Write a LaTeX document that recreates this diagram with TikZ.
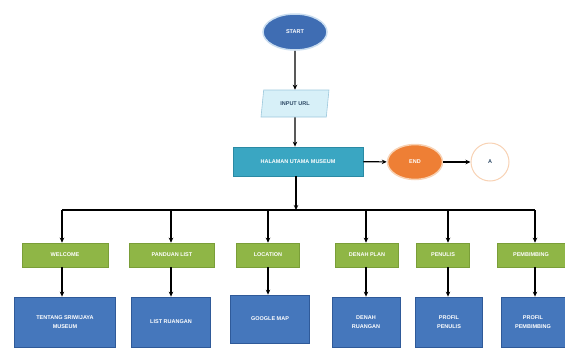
\documentclass[tikz,border=0pt]{standalone}
\usepackage{fontspec}
\setmainfont{Liberation Sans}
\usetikzlibrary{shapes.geometric,arrows.meta}
\definecolor{startblue}{HTML}{3F6DB3}
\definecolor{halo}{HTML}{C9DDF0}
\definecolor{inputfill}{HTML}{D7F0F8}
\definecolor{inputline}{HTML}{9CC8DC}
\definecolor{tealfill}{HTML}{3AA6C2}
\definecolor{tealline}{HTML}{2A8AA4}
\definecolor{endorange}{HTML}{EE7F35}
\definecolor{endhalo}{HTML}{F8D2B4}
\definecolor{greenfill}{HTML}{8FB646}
\definecolor{greenline}{HTML}{7A9E38}
\definecolor{bluefill}{HTML}{4577BC}
\definecolor{blueline}{HTML}{2F5A99}
\definecolor{darktext}{HTML}{2E4A66}
\begin{document}
\begin{tikzpicture}[x=1pt,y=-1pt,
  lbl/.style={font=\fontsize{5.5}{6.5}\selectfont\bfseries, align=center, inner sep=0pt},
  term/.style={lbl, ellipse, text=white, line width=1.5pt},
  inbox/.style={lbl, trapezium, trapezium left angle=72, trapezium right angle=108,
    fill=inputfill, draw=inputline, line width=0.6pt, text=darktext,
    minimum width=68pt, minimum height=27pt, trapezium stretches=true},
  mainbox/.style={lbl, rectangle, fill=tealfill, draw=tealline, line width=0.8pt, text=white,
    minimum width=130pt, minimum height=29pt},
  greenbox/.style={lbl, rectangle, fill=greenfill, draw=greenline, line width=0.6pt, text=white,
    minimum height=24pt},
  bluebox/.style={lbl, rectangle, fill=bluefill, draw=blueline, line width=0.8pt, text=white,
    minimum height=50pt},
  arr/.style={-{Stealth[length=5pt,width=4.5pt]}, line width=1.2pt, black},
  busline/.style={line width=1.2pt, black}]
\useasboundingbox (0,0) rectangle (565,354);

\node[term, fill=startblue, draw=halo, minimum width=64pt, minimum height=36pt] (start) at (295,32) {START};
\node[inbox] (input) at (295,103.5) {INPUT URL};
\node[mainbox] (main) at (298,161.5) {HALAMAN UTAMA MUSEUM};
\node[term, fill=endorange, draw=endhalo, minimum width=55pt, minimum height=35pt] (end) at (415,162) {END};
\node[lbl, circle, fill=white, draw=endhalo, line width=1pt, minimum size=38pt, text=darktext] (a) at (490,162) {A};

\draw[arr] (start) -- (input);
\draw[arr] (input) -- (main.north -| input);
\draw[arr] (main) -- (end);
\draw[arr] (end) -- (a);

\coordinate (j) at (296,210);
\coordinate (c1) at (62,210);
\coordinate (c2) at (171,210);
\coordinate (c3) at (268,210);
\coordinate (c4) at (366,210);
\coordinate (c5) at (448,210);
\coordinate (c6) at (535,210);
\draw[arr] (main.south -| j) -- (j);
\draw[busline] (c1) -- (c6);

\node[greenbox, minimum width=86pt] (g1) at (65,255) {WELCOME};
\node[greenbox, minimum width=85pt] (g2) at (172,255) {PANDUAN LIST};
\node[greenbox, minimum width=63pt] (g3) at (268,255) {LOCATION};
\node[greenbox, minimum width=63pt] (g4) at (367,255) {DENAH PLAN};
\node[greenbox, minimum width=53pt] (g5) at (443,255) {PENULIS};
\node[greenbox, minimum width=68pt] (g6) at (531,255) {PEMBIMBING};

\node[bluebox, minimum width=101pt] (b1) at (65,322) {TENTANG SRIWIJAYA\\[2pt]MUSEUM};
\node[bluebox, minimum width=79pt] (b2) at (171,322) {LIST RUANGAN};
\node[bluebox, minimum width=79pt, minimum height=48pt] (b3) at (270,319) {GOOGLE MAP};
\node[bluebox, minimum width=68pt] (b4) at (366,322) {DENAH\\[2pt]RUANGAN};
\node[bluebox, minimum width=67pt] (b5) at (449,322) {PROFIL\\[2pt]PENULIS};
\node[bluebox, minimum width=64pt] (b6) at (533,322) {PROFIL\\[2pt]PEMBIMBING};

\foreach \i in {1,...,6}{
  \draw[arr] (c\i) -- (c\i |- g\i.north);
  \draw[arr] (c\i |- g\i.south) -- (c\i |- b\i.north);
}
\end{tikzpicture}
\end{document}
